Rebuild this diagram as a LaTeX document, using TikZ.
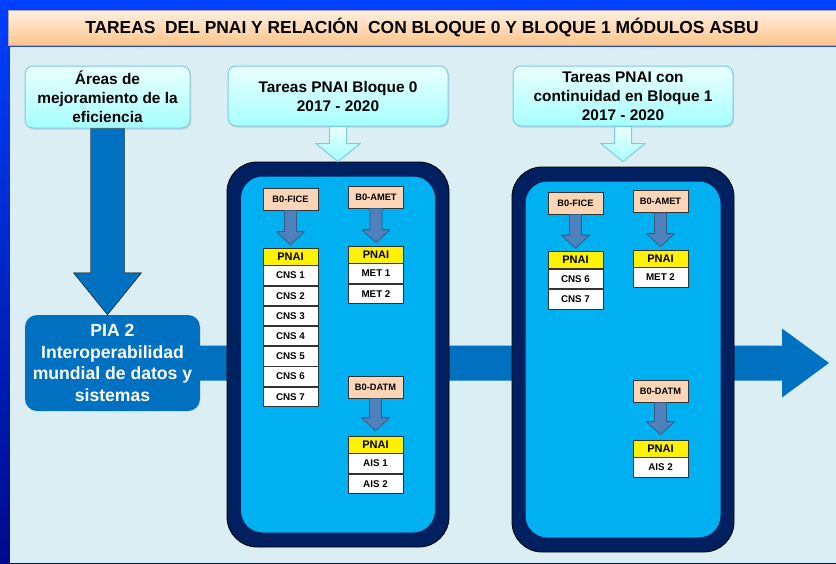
\documentclass[tikz,border=0pt]{standalone}
\usepackage{fontspec}
\setmainfont{Liberation Sans}
\usetikzlibrary{positioning,calc,shadows}

\definecolor{fondoazul}{HTML}{0040FF}
\definecolor{fondooscuro}{HTML}{000A8C}
\definecolor{panel}{HTML}{DAEEF3}
\definecolor{marino}{HTML}{002060}
\definecolor{celeste}{HTML}{00B0F0}
\definecolor{azulpia}{HTML}{0070C0}
\definecolor{durazno}{HTML}{FBD5B5}
\definecolor{flechaazul}{HTML}{4F81BD}
\definecolor{bordeclaro}{HTML}{7FCBDF}

% flecha de bloque vertical: estilo, origen, destino, medio tallo, media punta, largo punta
\newcommand{\flecha}[6]{%
    \draw[#1] let \p1=(#2), \p2=(#3) in
    (\x1-#4,\y1) -- (\x1+#4,\y1) -- (\x1+#4,\y2+#6) -- (\x1+#5,\y2+#6)
    -- (\x1,\y2) -- (\x1-#5,\y2+#6) -- (\x1-#4,\y2+#6) -- cycle;}

\tikzset{
    titulo/.style={draw=gray!70, top color=orange!12, bottom color=orange!45,
        minimum width=828pt, minimum height=35pt, inner sep=0pt,
        font=\bfseries\fontsize{17.4}{20}\selectfont,
        drop shadow={shadow xshift=1pt, shadow yshift=-1.5pt, opacity=0.3}},
    caja/.style={draw=bordeclaro, line width=1pt, rounded corners=8pt,
        top color=cyan!8, bottom color=cyan!35, align=center, inner sep=0pt,
        font=\bfseries\fontsize{15.4}{19}\selectfont,
        drop shadow={shadow xshift=1pt, shadow yshift=-1.5pt, opacity=0.25}},
    pia/.style={fill=azulpia, rounded corners=12pt, text=white, align=center,
        inner sep=0pt, font=\bfseries\fontsize{17.6}{21.7}\selectfont},
    marco/.style={fill=marino, draw=black, line width=0.8pt, rounded corners=30pt},
    interior/.style={fill=celeste, rounded corners=22pt},
    modulo/.style={draw=black!80, line width=0.8pt, fill=durazno, minimum width=55pt,
        minimum height=22pt, inner sep=0pt, font=\bfseries\fontsize{9.3}{11}\selectfont},
    cabecera/.style={modulo, fill=yellow, minimum height=17pt,
        font=\bfseries\fontsize{11}{13}\selectfont},
    celda/.style={modulo, fill=white, minimum height=19.4pt,
        font=\bfseries\fontsize{9.8}{11}\selectfont},
    flechaclara/.style={draw=bordeclaro, line width=1pt, top color=cyan!8, bottom color=cyan!35},
    flechita/.style={draw=flechaazul!70!black, line width=0.8pt, fill=flechaazul}
}

\begin{document}
\begin{tikzpicture}[x=1pt, y=1pt]
    \useasboundingbox (0,0) rectangle (836,-563);
    \shade[top color=fondoazul, bottom color=fondooscuro] (0,0) rectangle (836,-563);
    \fill[panel] (10,-47) rectangle (836,-563);
    \node[titulo] (tit) at (422,-27.5) {TAREAS \ DEL PNAI Y RELACIÓN \ CON BLOQUE 0 Y BLOQUE 1 MÓDULOS ASBU};

    % cajas superiores
    \node[caja, minimum width=165pt, minimum height=62pt] (areas) at (107.5,-97) {Áreas de\\mejoramiento de la\\eficiencia};
    \node[caja, minimum width=220pt, minimum height=60pt] (tareas0) at (338,-96) {Tareas PNAI Bloque 0\\2017 - 2020};
    \node[caja, minimum width=220pt, minimum height=60pt] (tareas1) at (623,-96) {Tareas PNAI con\\continuidad en Bloque 1\\2017 - 2020};

    % PIA 2 y flechas grandes
    \node[pia, minimum width=175pt, minimum height=96pt] (pia) at (112.5,-363) {PIA 2\\Interoperabilidad\\mundial de datos y\\sistemas};
    \flecha{fill=azulpia}{areas.south}{areas.south |- pia.north}{17pt}{34pt}{42pt}
    \coordinate (fin) at (829,-362.5);
    \fill[azulpia] let \p1=(pia.east), \p2=(fin) in
        (\x1,\y1+17.5pt) -- (\x2-47pt,\y1+17.5pt) -- (\x2-47pt,\y1+34.5pt) -- (\x2,\y1)
        -- (\x2-47pt,\y1-34.5pt) -- (\x2-47pt,\y1-17.5pt) -- (\x1,\y1-17.5pt) -- cycle;

    % bloque 0
    \node[marco, minimum width=222pt, minimum height=385pt] (marco0) at (338,-354.5) {};
    \node[interior, minimum width=194pt, minimum height=356pt] (int0) at (marco0.center) {};
    \flecha{flechaclara}{tareas0.south}{tareas0.south |- marco0.north}{8.5pt}{22pt}{18pt}

    \node[modulo] (fice0) at (290.5,-199) {B0-FICE};
    \node[cabecera] (pnaiA) at (290.5,-256.5) {PNAI};
    \node[celda, below=0pt of pnaiA] (cnsA1) {CNS 1};
    \foreach \i [evaluate=\i as \j using int(\i-1)] in {2,...,7}
        \node[celda, below=0pt of cnsA\j] (cnsA\i) {CNS \i};
    \flecha{flechita}{fice0.south}{$(pnaiA.north)+(0,3)$}{6pt}{14pt}{13pt}

    \node[modulo] (amet0) at (376,-197) {B0-AMET};
    \node[cabecera] (pnaiB) at (376,-254.5) {PNAI};
    \node[celda, below=0pt of pnaiB] (metB1) {MET 1};
    \node[celda, below=0pt of metB1] (metB2) {MET 2};
    \flecha{flechita}{amet0.south}{$(pnaiB.north)+(0,3)$}{6pt}{14pt}{13pt}

    \node[modulo] (datm0) at (375.5,-387) {B0-DATM};
    \node[cabecera] (pnaiC) at (375.5,-444.5) {PNAI};
    \node[celda, below=0pt of pnaiC] (aisC1) {AIS 1};
    \node[celda, below=0pt of aisC1] (aisC2) {AIS 2};
    \flecha{flechita}{datm0.south}{$(pnaiC.north)+(0,5)$}{6pt}{14pt}{13pt}

    % bloque 1
    \node[marco, minimum width=222pt, minimum height=385pt] (marco1) at (623,-359.5) {};
    \node[interior, minimum width=195pt, minimum height=356pt] (int1) at (marco1.center) {};
    \flecha{flechaclara}{tareas1.south}{$(tareas1.south |- marco1.north)+(0,5)$}{8.5pt}{22pt}{18pt}

    \node[modulo] (fice1) at (575.5,-203) {B0-FICE};
    \node[cabecera] (pnaiD) at (575.5,-260) {PNAI};
    \node[celda, below=0pt of pnaiD] (cnsD6) {CNS 6};
    \node[celda, below=0pt of cnsD6] (cnsD7) {CNS 7};
    \flecha{flechita}{fice1.south}{$(pnaiD.north)+(0,3)$}{6pt}{14pt}{13pt}

    \node[modulo] (amet1) at (660.5,-201.5) {B0-AMET};
    \node[cabecera] (pnaiE) at (660.5,-258.5) {PNAI};
    \node[celda, below=0pt of pnaiE] (metE2) {MET 2};
    \flecha{flechita}{amet1.south}{$(pnaiE.north)+(0,3)$}{6pt}{14pt}{13pt}

    \node[modulo] (datm1) at (660.5,-391) {B0-DATM};
    \node[cabecera] (pnaiF) at (660.5,-448.5) {PNAI};
    \node[celda, below=0pt of pnaiF] (aisF2) {AIS 2};
    \flecha{flechita}{datm1.south}{$(pnaiF.north)+(0,5)$}{6pt}{14pt}{13pt}
\end{tikzpicture}
\end{document}
